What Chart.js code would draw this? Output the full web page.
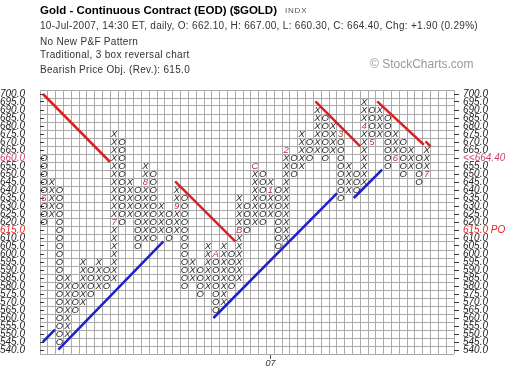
<!DOCTYPE html>
<html>
<head>
<meta charset="utf-8">
<script src="https://cdn.jsdelivr.net/npm/chart.js@4.4.0/dist/chart.umd.min.js"></script>
<style>
  body { margin: 0; background: #fff; }
  #wrap { position: relative; width: 520px; height: 378px; overflow: hidden; }
  #wrap canvas { position: absolute; left: 0; top: 0; }
  .txt { position: absolute; left: 40px; white-space: nowrap; font-family: "Liberation Sans", Arial, sans-serif;
         font-size: 10px; line-height: 12px; letter-spacing: 0.3px; color: #333; }
  .title { font-weight: bold; font-size: 11.5px; line-height: 13px; letter-spacing: 0; color: #000; top: 4px; }
  .exch { left: 285px; top: 6px; font-size: 8px; line-height: 10px; letter-spacing: 0.8px; color: #555; }
  .mark { left: 370px; top: 57px; font-size: 12px; line-height: 14px; letter-spacing: 0; color: #999; }
</style>
</head>
<body>
<div id="wrap">
  <canvas id="pf" width="520" height="378"></canvas>
  <div class="txt title">Gold - Continuous Contract (EOD) ($GOLD)</div>
  <div class="txt exch">INDX</div>
  <div class="txt" style="top:20px">10-Jul-2007, 14:30 ET, daily, O: 662.10, H: 667.00, L: 660.30, C: 664.40, Chg: +1.90 (0.29%)</div>
  <div class="txt" style="top:36px">No New P&amp;F Pattern</div>
  <div class="txt" style="top:49px">Traditional, 3 box reversal chart</div>
  <div class="txt" style="top:64px">Bearish Price Obj. (Rev.): 615.0</div>
  <div class="txt mark">© StockCharts.com</div>
</div>
<script>
// point & figure columns, first column is O, then X / O alternate
var boxSize = 5;
var colTops    = [660, 645, 640, 585, 580, 595, 590, 595, 590, 675,
                  670, 645, 640, 655, 650, 630, 625, 640, 635, 595,
                  590, 605, 600, 605, 600, 635, 630, 655, 650, 645,
                  640, 665, 660, 675, 670, 690, 685, 680, 675, 655,
                  650, 695, 690, 690, 685, 675, 670, 665, 660, 665];
var colBottoms = [620, 625, 545, 550, 565, 570, 575, 580, 580, 585,
                  620, 625, 605, 610, 610, 615, 610, 615, 580, 585,
                  575, 580, 565, 570, 580, 585, 615, 620, 620, 625,
                  605, 610, 650, 655, 660, 665, 660, 665, 635, 640,
                  640, 645, 670, 675, 655, 660, 650, 655, 645, 650];

// month markers (1-9, A, B, C) that replace a box
var monthCols   = [0, 9, 13, 17, 22, 25, 27, 29, 31, 38, 41, 42, 45, 49];
var monthPrices = [635, 620, 645, 630, 600, 615, 655, 640, 665, 675, 680, 670, 660, 650];
var monthLabels = ['6', '7', '8', '9', 'A', 'B', 'C', '1', '2', '3', '4', '5', '6', '7'];

var yearCols   = [29];
var yearLabels = ['07'];

var priceTicks = [700, 695, 690, 685, 680, 675, 670, 665, 660, 655, 650, 645, 640, 635, 630, 625, 620,
                  615, 610, 605, 600, 595, 590, 585, 580, 575, 570, 565, 560, 555, 550, 545, 540];
var lastPrice = 664.40, lastRow = 660;
var priceObjective = 615;

// trend lines: [fromCol, fromPrice, toCol, toPrice]
var redTrend  = [[0.38, 700, 8.97, 657.5], [17.3, 645.4, 25.0, 607.9], [35.26, 695.4, 41.0, 667.25],
                 [43.17, 695.4, 49.14, 668.3], [49.36, 670.4, 50.0, 667.3]];
var blueTrend = [[0.35, 545, 1.92, 552.7], [2.35, 540.2, 15.8, 607.9], [22.2, 560, 38.04, 638.1],
                 [40.17, 635, 43.8, 652.7]];

var gridCols = 53;
var priceMin = 537.5, priceMax = 702.5;

var gridColor = '#aaaaaa',
    letterColor = '#2b2b2b',
    monthColor = '#c0304f',
    fontFamily = '"Liberation Sans", Arial, sans-serif';

// build the boxes
var xBoxes = [], oBoxes = [], monthBoxes = [];
function monthIndex(col, price) {
  for (var k = 0; k < monthCols.length; k++) {
    if (monthCols[k] === col && monthPrices[k] === price) return k;
  }
  return -1;
}
colTops.forEach(function(top, i) {
  for (var p = colBottoms[i]; p <= top; p += boxSize) {
    if (monthIndex(i, p) >= 0) continue;
    (i % 2 === 0 ? oBoxes : xBoxes).push({x: i + 0.5, y: p});
  }
});
monthCols.forEach(function(c, k) {
  monthBoxes.push({x: c + 0.5, y: monthPrices[k]});
});

function trendSet(lines, color) {
  return lines.map(function(l) {
    return {
      type: 'scatter', showLine: true, data: [{x: l[0], y: l[1]}, {x: l[2], y: l[3]}],
      borderColor: color, borderWidth: 2.5, pointRadius: 0, tension: 0
    };
  });
}

// draws the X / O / month characters where the library placed the points
var glyphPlugin = {
  id: 'glyphs',
  afterDatasetsDraw: function(chart) {
    var ctx = chart.ctx;
    chart.data.datasets.forEach(function(ds, di) {
      if (!ds.glyphs) return;
      var meta = chart.getDatasetMeta(di);
      ctx.save();
      ctx.font = 'italic 9.5px ' + fontFamily;
      ctx.fillStyle = ds.glyphColor;
      ctx.textAlign = 'center';
      ctx.textBaseline = 'middle';
      meta.data.forEach(function(el, j) {
        var g = typeof ds.glyphs === 'string' ? ds.glyphs : ds.glyphs[j];
        ctx.fillText(g, el.x, el.y + 0.5);
      });
      ctx.restore();
    });
  }
};

function range(from, to, step) {
  var out = [];
  for (var v = from; v <= to + 1e-9; v += step) out.push({value: v});
  return out;
}

var labelFont = {family: fontFamily, size: 10, style: 'italic'};

var ctx = document.getElementById('pf').getContext('2d');
var pfChart = new Chart(ctx, {
  type: 'scatter',
  data: {
    datasets: trendSet(redTrend, '#e01e1e').concat(trendSet(blueTrend, '#1f1fcc')).concat([
      {data: xBoxes, glyphs: 'X', glyphColor: letterColor, pointRadius: 0},
      {data: oBoxes, glyphs: 'O', glyphColor: letterColor, pointRadius: 0},
      {data: monthBoxes, glyphs: monthLabels, glyphColor: monthColor, pointRadius: 0}
    ])
  },
  options: {
    responsive: false,
    animation: false,
    events: [],
    devicePixelRatio: 1,
    layout: {padding: {top: 90, left: 0, right: 0, bottom: 0}},
    plugins: {legend: {display: false}, tooltip: {enabled: false}},
    scales: {
      x: {
        type: 'linear', position: 'bottom', min: 0, max: gridCols, bounds: 'data',
        afterBuildTicks: function(a) { a.ticks = range(0, gridCols, 1); },
        ticks: {display: false},
        grid: {color: gridColor, drawTicks: false},
        border: {display: false},
        afterFit: function(a) { a.height = 0; }
      },
      xYear: {
        type: 'linear', position: 'bottom', min: 0, max: gridCols, bounds: 'data',
        afterBuildTicks: function(a) { a.ticks = yearCols.map(function(c) { return {value: c + 0.5}; }); },
        ticks: {
          autoSkip: false, maxRotation: 0, padding: -1, color: '#333',
          font: {family: fontFamily, size: 9, style: 'italic'},
          callback: function(v, i) { return yearLabels[i]; }
        },
        grid: {drawOnChartArea: false, tickLength: 5, color: '#555'},
        border: {display: false},
        afterFit: function(a) { a.height = 24; }
      },
      yGrid: {
        type: 'linear', position: 'left', min: priceMin, max: priceMax, bounds: 'data',
        afterBuildTicks: function(a) { a.ticks = range(priceMin, priceMax, boxSize); },
        ticks: {display: false},
        grid: {color: gridColor, drawTicks: false},
        border: {display: false},
        afterFit: function(a) { a.width = 0; }
      },
      y: {
        type: 'linear', position: 'left', min: priceMin, max: priceMax, bounds: 'data',
        afterBuildTicks: function(a) { a.ticks = priceTicks.map(function(v) { return {value: v}; }); },
        ticks: {
          autoSkip: false, crossAlign: 'far', padding: 0, font: labelFont,
          color: function(c) {
            if (c.tick.value === lastRow) return '#c8466a';
            if (c.tick.value === priceObjective) return '#e42525';
            return '#222';
          },
          callback: function(v) { return v.toFixed(1); }
        },
        grid: {drawOnChartArea: false, tickLength: -4, color: '#333'},
        border: {display: false},
        afterFit: function(a) { a.width = 40; }
      },
      y2: {
        type: 'linear', position: 'right', min: priceMin, max: priceMax, bounds: 'data',
        afterBuildTicks: function(a) { a.ticks = priceTicks.map(function(v) { return {value: v}; }); },
        ticks: {
          autoSkip: false, crossAlign: 'near', padding: 4, font: labelFont,
          color: function(c) {
            if (c.tick.value === lastRow) return '#c8466a';
            if (c.tick.value === priceObjective) return '#e42525';
            return '#222';
          },
          callback: function(v) {
            if (v === lastRow) return '<<' + lastPrice.toFixed(2);
            if (v === priceObjective) return v.toFixed(1) + ' PO';
            return v.toFixed(1);
          }
        },
        grid: {drawOnChartArea: false, tickLength: 5, color: '#333'},
        border: {display: false},
        afterFit: function(a) { a.width = 66; }
      }
    }
  },
  plugins: [glyphPlugin]
});
</script>
</body>
</html>
